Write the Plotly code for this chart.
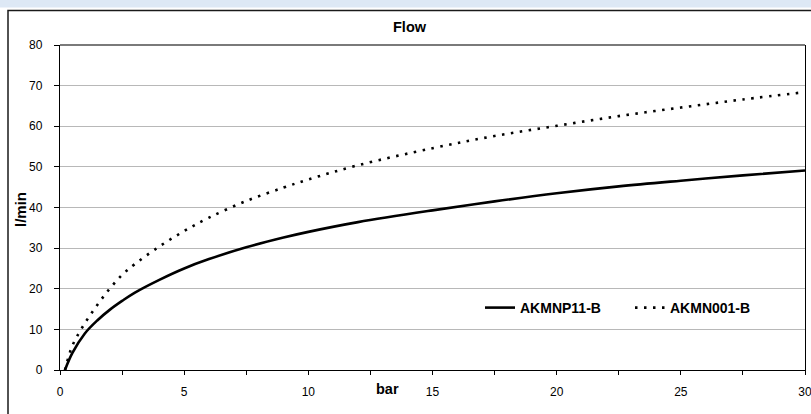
import plotly.graph_objects as go

# Data
pressure_bar = [0.2, 0.5, 1, 1.5, 2, 2.5, 3, 4, 5, 6, 7.5, 9, 10, 12, 15, 17.5, 20, 22.5, 25, 27.5, 30]
flow_akmnp11 = [0, 4.2, 9.0, 12.2, 14.8, 17.0, 19.0, 22.2, 25.0, 27.3, 30.2, 32.6, 34.0, 36.4, 39.3, 41.5, 43.5, 45.2, 46.6, 47.9, 49.1]
flow_akmn001 = [0, 6.0, 11.5, 16.0, 20.0, 23.4, 26.0, 30.4, 34.2, 37.5, 41.6, 44.9, 46.9, 50.4, 54.6, 57.6, 60.1, 62.5, 64.6, 66.6, 68.4]
series_names = ["AKMNP11-B", "AKMN001-B"]
x_ticks = [0, 5, 10, 15, 20, 25, 30]
y_ticks = [0, 10, 20, 30, 40, 50, 60, 70, 80]

FONT = "Liberation Sans"

fig = go.Figure()
fig.add_trace(go.Scatter(
    x=pressure_bar, y=flow_akmnp11, name=series_names[0], mode="lines",
    line=dict(color="black", width=2.6, shape="spline", smoothing=1.0),
))
fig.add_trace(go.Scatter(
    x=pressure_bar, y=flow_akmn001, name=series_names[1], mode="lines",
    line=dict(color="black", width=2.6, dash="2.5px,6.5px", shape="spline", smoothing=1.0),
))

W, H = 811, 414
L, R, T, B = 60, 6, 45, 44
pw = W - L - R
ph = H - T - B

def px_x(px):
    return (px - L) / pw

def px_y(py):
    return (H - B - py) / ph

fig.update_layout(
    width=W, height=H,
    margin=dict(l=L, r=R, t=T, b=B, pad=0, autoexpand=False),
    paper_bgcolor="white", plot_bgcolor="white",
    font=dict(family=FONT, size=12, color="black"),
    showlegend=True,
    legend=dict(
        orientation="h", x=px_x(480), y=px_y(308), xanchor="left", yanchor="middle",
        font=dict(family=FONT, size=14, color="black", weight="bold"),
        bgcolor="rgba(255,255,255,0)", entrywidth=105, entrywidthmode="pixels",
        tracegroupgap=0,
    ),
    xaxis=dict(
        range=[0, 30], tickvals=x_ticks, ticks="outside", ticklen=4, tickwidth=1,
        tickcolor="black", showline=True, linecolor="black", linewidth=1.3,
        showgrid=False, zeroline=False, ticklabelstandoff=6, ticklabeloverflow="allow",
        automargin=False,
        minor=dict(dtick=2.5, ticks="outside", ticklen=4, tickcolor="black", showgrid=False),
        tickfont=dict(family=FONT, size=12),
    ),
    yaxis=dict(
        range=[0, 80], tickvals=y_ticks, ticks="outside", ticklen=5, tickwidth=1,
        tickcolor="black", showline=True, linecolor="black", linewidth=1.3, mirror=True,
        showgrid=True, gridcolor="#b8b8b8", gridwidth=1, zeroline=False, automargin=False,
        ticklabelstandoff=9, tickfont=dict(family=FONT, size=12),
    ),
    shapes=[
        # top band
        dict(type="rect", xref="paper", yref="paper", x0=-0.2, x1=1.2,
             y0=px_y(7.5), y1=px_y(-5), fillcolor="#dde8f5", line=dict(width=0)),
        # chart area border
        dict(type="rect", xref="paper", yref="paper", x0=px_x(8), x1=px_x(830),
             y0=px_y(440), y1=px_y(10.5), fillcolor="rgba(0,0,0,0)",
             line=dict(color="#1a1a1a", width=1.5)),
        # darker top gridline at 80
        dict(type="line", xref="paper", yref="paper", x0=0, x1=1, y0=1, y1=1,
             line=dict(color="#7a7a7a", width=2)),
    ],
    annotations=[
        dict(text="<b>Flow</b>", xref="paper", yref="paper", x=px_x(410), y=px_y(27),
             showarrow=False, font=dict(family=FONT, size=14.5), xanchor="center", yanchor="middle"),
        dict(text="<b>bar</b>", xref="paper", yref="paper", x=px_x(387), y=px_y(389),
             showarrow=False, font=dict(family=FONT, size=14.5), xanchor="center", yanchor="middle"),
        dict(text="<b>l/min</b>", xref="paper", yref="paper", x=px_x(20), y=px_y(210),
             showarrow=False, textangle=-90, font=dict(family=FONT, size=15),
             xanchor="center", yanchor="middle"),
    ],
)

# remove the browser's default 8px page margin so the figure sits at the window origin
fig.write_html("out.html", config={"displayModeBar": False},
               post_script="document.body.style.margin='0px';")
